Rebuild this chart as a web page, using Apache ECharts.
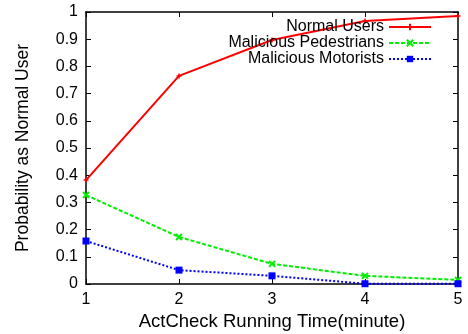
<!DOCTYPE html>
<html>
<head>
<meta charset="utf-8">
<script src="https://cdn.jsdelivr.net/npm/echarts@6/dist/echarts.min.js"></script>
<style>
  html, body { margin: 0; padding: 0; background: #fff; }
  #myChart { width: 468px; height: 334px; }
</style>
</head>
<body>
<div id="myChart"></div>
<script>
// minutes of ActCheck running time
var minutes = [1, 2, 3, 4, 5];
var normalUsers = [0.382, 0.765, 0.897, 0.967, 0.985];
var pedestrians = [0.327, 0.173, 0.074, 0.030, 0.015];
var motorists = [0.158, 0.051, 0.030, 0.001, 0.001];
var yTicks = [0, 0.1, 0.2, 0.3, 0.4, 0.5, 0.6, 0.7, 0.8, 0.9, 1];

var plusIcon = 'path://M0,5L10,5M5,0L5,10';
var crossIcon = 'path://M1,1L9,9M9,1L1,9';

function pairs(ys) {
  return minutes.map(function (m, i) { return [m, ys[i]]; });
}

var font = 'Liberation Sans, Arial, sans-serif';
var tickStyle = { inside: true, length: 5, lineStyle: { color: '#000', width: 1 } };

var option = {
  animation: false,
  backgroundColor: '#fff',
  grid: { left: 86, top: 12, right: 10, bottom: 50, containLabel: false, outerBoundsMode: 'none' },
  legend: {
    right: 31,
    top: 14,
    orient: 'vertical',
    align: 'right',
    itemGap: 0,
    itemWidth: 42,
    itemHeight: 8,
    textStyle: { fontFamily: font, fontSize: 16, color: '#000', padding: [0, 0, 0, 0] },
    data: ['Normal Users', 'Malicious Pedestrians', 'Malicious Motorists']
  },
  xAxis: [{
    type: 'value', min: 1, max: 5, interval: 1,
    name: 'ActCheck Running Time(minute)', nameLocation: 'middle', nameGap: 28,
    nameTextStyle: { fontFamily: font, fontSize: 18.5, color: '#000' },
    axisLine: { onZero: false, lineStyle: { color: '#000', width: 1.5 } },
    axisTick: tickStyle,
    axisLabel: { fontFamily: font, fontSize: 16, color: '#000', margin: 8 },
    splitLine: { show: false }
  }, {
    type: 'value', position: 'top', min: 1, max: 5, interval: 1,
    axisLine: { onZero: false, lineStyle: { color: '#000', width: 1.5 } },
    axisTick: tickStyle, axisLabel: { show: false }, splitLine: { show: false }
  }],
  yAxis: [{
    type: 'value', min: 0, max: 1, interval: 0.1,
    name: 'Probability as Normal User', nameLocation: 'middle', nameGap: 54,
    nameTextStyle: { fontFamily: font, fontSize: 17.5, color: '#000' },
    axisLine: { show: true, onZero: false, lineStyle: { color: '#000', width: 1.5 } },
    axisTick: tickStyle,
    axisLabel: {
      fontFamily: font, fontSize: 16, color: '#000', margin: 8,
      formatter: function (v) {
        var t = yTicks.find(function (k) { return Math.abs(k - v) < 1e-6; });
        return t === undefined ? '' : String(t);
      }
    },
    splitLine: { show: false }
  }, {
    type: 'value', position: 'right', min: 0, max: 1, interval: 0.1,
    axisLine: { show: true, onZero: false, lineStyle: { color: '#000', width: 1.5 } },
    axisTick: tickStyle, axisLabel: { show: false }, splitLine: { show: false }
  }],
  series: [{
    name: 'Normal Users', type: 'line', data: pairs(normalUsers),
    symbol: plusIcon, symbolSize: 5,
    lineStyle: { color: '#ff0000', width: 2 },
    itemStyle: { color: '#ff0000', borderColor: '#ff0000', borderWidth: 1.5 }
  }, {
    name: 'Malicious Pedestrians', type: 'line', data: pairs(pedestrians),
    symbol: crossIcon, symbolSize: 6,
    lineStyle: { color: '#00ee00', width: 2, type: [4, 2] },
    itemStyle: { color: '#00ee00', borderColor: '#00ee00', borderWidth: 2 }
  }, {
    name: 'Malicious Motorists', type: 'line', data: pairs(motorists),
    symbol: 'rect', symbolSize: 7,
    lineStyle: { color: '#0000ff', width: 2, type: [2, 2] },
    itemStyle: { color: '#0000ff' }
  }]
};

var myChart = echarts.init(document.getElementById('myChart'));
myChart.setOption(option);
</script>
</body>
</html>
